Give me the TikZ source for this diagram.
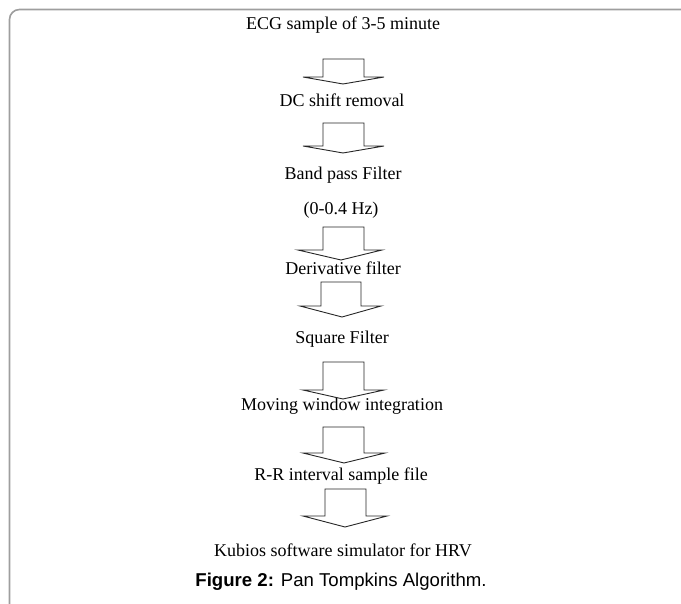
\documentclass[tikz,border=0pt]{standalone}
\usepackage{fontspec}
\setmainfont{Liberation Serif}
\newfontfamily\capfont{Liberation Sans}
\tikzset{
  lbl/.style={font=\fontsize{18}{20}\selectfont, inner sep=0pt, text=black},
  blockarr/.style={draw=black!85, line width=0.9pt, line join=miter, fill=white},
  frameline/.style={draw=black!38, line width=1.6pt}
}
% #1 shaft left, #2 shaft right, #3 top, #4 shoulder, #5 head left, #6 head right, #7 tip x, #8 tip y
\newcommand\blkarrow[8]{%
  \draw[blockarr] (#1,#3) -- (#2,#3) -- (#2,#4) -- (#6,#4) -- (#7,#8) -- (#5,#4) -- (#1,#4) -- cycle;}
\begin{document}
\begin{tikzpicture}[x=1pt,y=-1pt]
\useasboundingbox (0,0) rectangle (681,604);
\draw[frameline] (681,9.5) -- (19.5,9.5) arc[start angle=270,end angle=180,radius=10] -- (9.5,604);
\node[lbl] (n1) at (343,25) {ECG sample of 3-5 minute};
\node[lbl] (n2) at (342,100) {DC shift removal};
\node[lbl] (n3) at (343,175) {Band pass Filter};
\node[lbl] (n3b) at (341,210) {(0-0.4 Hz)};
\node[lbl] (n4) at (343,268) {Derivative filter};
\node[lbl] (n5) at (342,339) {Square Filter};
\node[lbl] (n6) at (342,406) {Moving window integration};
\node[lbl] (n7) at (341,476) {R-R interval sample file};
\node[lbl] (n8) at (343,550) {Kubios software simulator for HRV};
\node[inner sep=0pt, font=\capfont\fontsize{18.6}{20}\selectfont] (cap) at (341,582) {\textbf{Figure 2:} Pan Tompkins Algorithm.};
\blkarrow{323}{364}{59}{77}{303}{384}{343}{84}
\blkarrow{323}{364}{123}{146}{303}{384}{343}{153}
\blkarrow{323}{364}{227}{250}{298}{382}{341}{260}
\blkarrow{321}{361}{282}{306}{300}{381}{342}{317}
\blkarrow{323}{364}{362}{390}{303}{384}{343}{399}
\blkarrow{323}{364}{427}{453}{303}{385}{344}{463}
\blkarrow{325}{366}{489}{516}{303}{387}{345}{527}
\end{tikzpicture}
\end{document}
